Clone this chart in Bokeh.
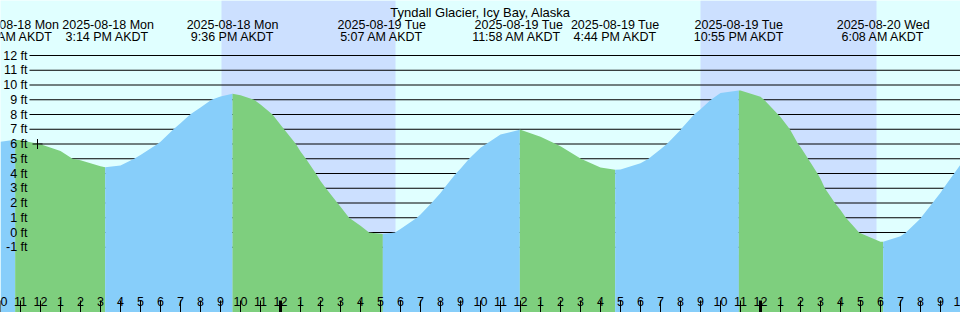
from bokeh.plotting import figure
from bokeh.models import Range1d, ColumnDataSource
from bokeh.embed import file_html
from bokeh.resources import INLINE
from bokeh.core.properties import value

# ---------------- data (hours relative to 2025-08-19 00:00 AKDT, heights in ft) --------------
title_text = "Tyndall Glacier, Icy Bay, Alaska"

# heights read at each hour
hour_times = list(range(-14, 35))
hour_heights = [
    6.15, 6.25, 5.98, 5.52, 4.90, 4.50, 4.55, 5.26, 6.16, 7.40, 8.47, 9.22,   # 10AM..9PM Aug 18
    9.30, 8.67, 7.30, 5.50, 3.50, 1.74, 0.45, -0.08, 0.24, 1.22, 2.68, 4.32,  # 10PM..9AM
    5.75, 6.64, 6.96, 6.50, 5.85, 5.02, 4.40, 4.27, 4.70, 5.64, 6.95, 8.36,   # 10AM..9PM Aug 19
    9.45, 9.62, 9.20, 7.83, 5.80, 3.65, 1.52, -0.05, -0.62, -0.25, 0.95, 2.70, # 10PM..9AM
    4.60,                                                                      # 10AM Aug 20
]

# times at which the curve crosses the whole-foot lines
cross_times = [-10.40, -7.32, -6.15, -5.35, -4.52, -3.45,
               -1.32, -0.40, 0.18, 0.77, 1.27, 1.77, 2.27, 2.85, 3.43, 4.43,
               5.72, 6.82, 7.55, 8.18, 8.77, 9.43,
               13.77, 15.02,
               18.40, 19.32, 20.02, 20.68, 21.52,
               24.18, 24.88, 25.47, 25.88, 26.38, 26.85, 27.22, 27.72, 28.27, 28.93,
               31.27, 32.02, 32.60, 33.15, 33.68]
cross_heights = [5, 5, 6, 7, 8, 9,
                 9, 8, 7, 6, 5, 4, 3, 2, 1, 0,
                 0, 1, 2, 3, 4, 5,
                 6, 5,
                 5, 6, 7, 8, 9,
                 9, 8, 7, 6, 5, 4, 3, 2, 1, 0,
                 0, 1, 2, 3, 4]

event_times = [-13.267, -8.767, -2.4, 5.117, 11.967, 16.733, 22.917, 30.133]
event_heights = [6.28, 4.43, 9.40, -0.10, 6.96, 4.25, 9.63, -0.63]
event_dates = ["2025-08-18 Mon", "2025-08-18 Mon", "2025-08-18 Mon", "2025-08-19 Tue",
               "2025-08-19 Tue", "2025-08-19 Tue", "2025-08-19 Tue", "2025-08-20 Wed"]
event_clock = ["10:44 AM AKDT", "3:14 PM AKDT", "9:36 PM AKDT", "5:07 AM AKDT",
               "11:58 AM AKDT", "4:44 PM AKDT", "10:55 PM AKDT", "6:08 AM AKDT"]

sunset_times = [-2.95, 21.0]
sunrise_times = [5.75, 29.8]

level_ft = list(range(-1, 13))
level_labels = [f"{v} ft" for v in level_ft]

tick_hours = list(range(-14, 35))
tick_labels = [str(h % 12 or 12) for h in tick_hours]

now_time = [-12.15]
now_height = [6.0]

# ---------------- styling --------------
W, H = 960, 312
DAY = "#e0ffff"
NIGHT = "#cce0ff"
FLOOD = "#87cefa"
EBB = "#7ecf7e"
FONT = value("Liberation Sans")
FS = "12.5px"
date_dx = [-2, 3, 0, -1, -1, 0, 0, 0]      # label nudges (px) to keep labels apart
clock_dx = [-7, 2, 0, -1, -3, 0, 0, 0]

x_start, x_end = -14.0, 34.0
px_per_ft = 14.75
y_start = -(H - 232) / px_per_ft
y_end = 232 / px_per_ft
px_per_hr = W / (x_end - x_start)

p = figure(width=W, height=H, output_backend="svg", toolbar_location=None,
           x_range=Range1d(x_start, x_end), y_range=Range1d(y_start, y_end),
           min_border=0, min_border_left=0, min_border_right=0,
           min_border_top=0, min_border_bottom=0)
p.axis.visible = False
p.grid.visible = False
p.outline_line_color = None
p.background_fill_color = DAY
p.border_fill_color = DAY

# night bands
p.quad(left=sunset_times, right=sunrise_times, bottom=y_start, top=y_end,
       fill_color=NIGHT, line_color=None)

# grid lines
n = len(level_ft)
p.segment(x0=[x_start + 29 / px_per_hr] * n, x1=[x_end] * n, y0=level_ft, y1=level_ft,
          line_color="black", line_width=1)

# tide fill, split at each high / low
pts = sorted(zip(hour_times + cross_times + event_times,
                 hour_heights + cross_heights + event_heights))
bounds = [x_start] + event_times + [x_end]
for a, b in zip(bounds[:-1], bounds[1:]):
    seg = [(t, h) for t, h in pts if a - 1e-9 <= t <= b + 1e-9]
    xs = [t for t, _ in seg]
    ys = [h for _, h in seg]
    color = FLOOD if ys[-1] > ys[0] else EBB
    p.varea(x=xs, y1=[y_start] * len(xs), y2=ys, fill_color=color)

# now marker
p.scatter(x=now_time, y=now_height, marker="cross", size=10, line_color="black", line_width=1)

# level labels
p.text(x=[x_start] * n, y=level_ft, text=level_labels, x_offset=27, text_align="right",
       text_baseline="middle", text_font=FONT, text_font_size=FS, text_color="black")

# event labels
m = len(event_times)
ev_src = ColumnDataSource(dict(x=event_times, y=[y_end] * m, d=event_dates, c=event_clock,
                               dx1=date_dx, dx2=clock_dx))
p.text(x="x", y="y", text="d", x_offset="dx1", y_offset=24, text_align="center",
       text_baseline="alphabetic", text_font=FONT, text_font_size=FS, text_color="black",
       source=ev_src)
p.text(x="x", y="y", text="c", x_offset="dx2", y_offset=36, text_align="center",
       text_baseline="alphabetic", text_font=FONT, text_font_size=FS, text_color="black",
       source=ev_src)

# title
p.text(x=[(x_start + x_end) / 2], y=[y_end], text=[title_text], y_offset=11.5, text_align="center",
       text_baseline="alphabetic", text_font=FONT, text_font_size="13px", text_color="black")

# hour ticks and labels
k = len(tick_hours)
tick_src = ColumnDataSource(dict(
    x=tick_hours, y0=[y_start] * k, y1=[y_start + 12 / px_per_ft] * k,
    w=[3 if h % 24 == 0 else 1 for h in tick_hours]))
p.segment(x0="x", x1="x", y0="y0", y1="y1", line_width="w", line_color="black", source=tick_src)
p.text(x=tick_hours, y=[y_start] * k, text=tick_labels, y_offset=-11.3, text_align="center",
       text_baseline="alphabetic", text_font=FONT, text_font_size=FS, text_color="black")

open("out.html", "w").write(file_html(p, INLINE))
